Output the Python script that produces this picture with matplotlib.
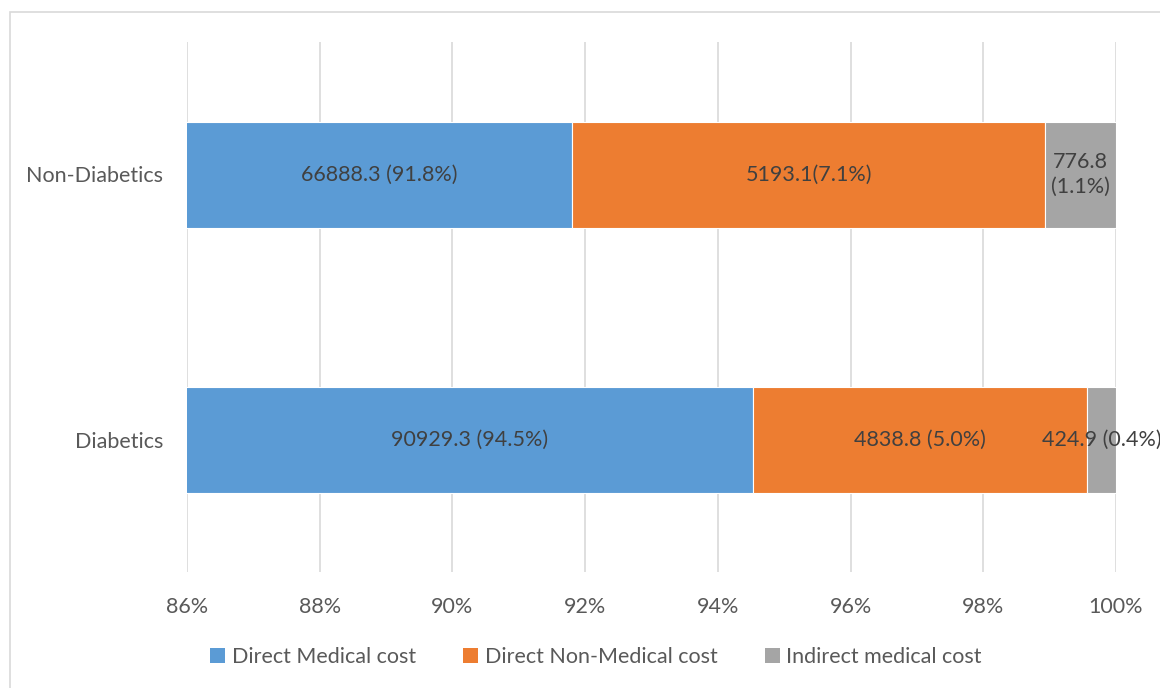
import matplotlib
matplotlib.use("Agg")
import matplotlib.pyplot as plt
from matplotlib.patches import Rectangle, Patch

plt.rcParams['font.family'] = ['Lato', 'DejaVu Sans']

# Cost breakdown per group
groups = ["Diabetics", "Non-Diabetics"]
series = ["Direct Medical cost", "Direct Non-Medical cost", "Indirect medical cost"]
direct_medical = [90929.3, 66888.3]
direct_non_medical = [4838.8, 5193.1]
indirect_medical = [424.9, 776.8]
bar_labels = [
    ["90929.3 (94.5%)", "4838.8 (5.0%)", "424.9 (0.4%)"],
    ["66888.3 (91.8%)", "5193.1(7.1%)", "776.8\n(1.1%)"],
]
x_ticks = [0.86, 0.88, 0.90, 0.92, 0.94, 0.96, 0.98, 1.00]
x_tick_labels = ["86%", "88%", "90%", "92%", "94%", "96%", "98%", "100%"]

colors = ["#5B9BD5", "#ED7D31", "#A5A5A5"]
text_color = "#595959"
x_min, x_max = 0.86, 1.00
fs = 15.5

fig = plt.figure(figsize=(11.6, 6.88), dpi=100)
ax = fig.add_axes([187 / 1160, 1 - 572 / 688, (1116 - 187) / 1160, (572 - 42) / 688])

# Chart-area frame (top and left edges visible)
fig.patches.append(Rectangle((10 / 1160, -0.1), 1.2, (688 - 12) / 688 + 0.1,
                             transform=fig.transFigure, fill=False,
                             edgecolor="#d9d9d9", linewidth=1.2, zorder=0))

values = [direct_medical, direct_non_medical, indirect_medical]
for gi, g in enumerate(groups):
    total = sum(v[gi] for v in values)
    left = 0.0
    for si in range(3):
        share = values[si][gi] / total
        ax.barh(gi, share, left=left, height=0.4, color=colors[si],
                edgecolor="white", linewidth=0.8, zorder=3)
        vis_lo = max(left, x_min)
        vis_hi = min(left + share, x_max)
        ax.text((vis_lo + vis_hi) / 2, gi, bar_labels[gi][si],
                ha="center", va="center", fontsize=fs, color="#404040",
                linespacing=1.3, zorder=4, clip_on=False)
        left += share

ax.set_xlim(x_min, x_max)
ax.set_ylim(-0.5, 1.5)
ax.set_xticks(x_ticks)
ax.set_xticklabels(x_tick_labels)
ax.set_yticks(range(len(groups)))
ax.set_yticklabels(groups)
ax.tick_params(axis="both", length=0, labelsize=fs, labelcolor=text_color)
ax.tick_params(axis="x", pad=18)
ax.tick_params(axis="y", pad=17)
ax.grid(axis="x", color="#d9d9d9", linewidth=1.2, zorder=0)
ax.set_axisbelow(True)
for s in ax.spines.values():
    s.set_visible(False)

handles = [Patch(facecolor=c, edgecolor="none") for c in colors]
fig.legend(handles, series, loc="center", bbox_to_anchor=(596 / 1160, 1 - 657 / 688),
           ncol=3, frameon=False, fontsize=fs, labelcolor=text_color,
           handlelength=0.7, handleheight=0.7, handletextpad=0.3, columnspacing=2.2)

fig.savefig("out.png", dpi=100)
